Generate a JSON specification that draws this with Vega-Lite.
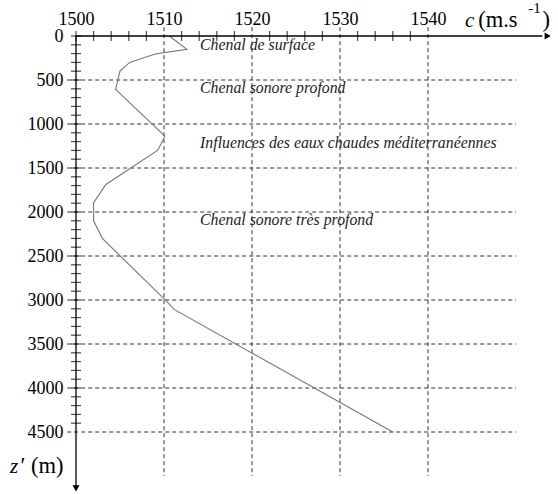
{
  "$schema": "https://vega.github.io/schema/vega-lite/v6.json",
  "autosize": {"type": "none"},
  "padding": {"left": 76, "top": 36, "right": 42, "bottom": 18},
  "width": 440,
  "height": 440,
  "background": "white",
  "config": {
    "view": {"stroke": null},
    "axis": {"domain": false, "ticks": false, "grid": false, "labelFont": "Liberation Serif", "labelFontSize": 18, "labelColor": "#000", "labelFlush": false, "labelOverlap": false, "format": "d"}
  },
  "datasets": {
    "profile": [
      {"c": 1510.6, "z": 0},
      {"c": 1512.6, "z": 151},
      {"c": 1509.0, "z": 205},
      {"c": 1506.1, "z": 300},
      {"c": 1505.0, "z": 398},
      {"c": 1504.5, "z": 607},
      {"c": 1510.1, "z": 1138},
      {"c": 1509.3, "z": 1297},
      {"c": 1503.4, "z": 1687},
      {"c": 1502.0, "z": 1894},
      {"c": 1502.0, "z": 2100},
      {"c": 1503.0, "z": 2301},
      {"c": 1510.1, "z": 2996},
      {"c": 1511.2, "z": 3110},
      {"c": 1536.0, "z": 4500}
    ],
    "vgrid": [
      {"c": 1510, "z": -100, "z2": 5000},
      {"c": 1520, "z": -100, "z2": 5000},
      {"c": 1530, "z": -100, "z2": 5000},
      {"c": 1540, "z": -100, "z2": 5000}
    ],
    "hgrid": [
      {"z": 500, "c": 1499, "c2": 1550},
      {"z": 1000, "c": 1499, "c2": 1550},
      {"z": 1500, "c": 1499, "c2": 1550},
      {"z": 2000, "c": 1499, "c2": 1550},
      {"z": 2500, "c": 1499, "c2": 1550},
      {"z": 3000, "c": 1499, "c2": 1550},
      {"z": 3500, "c": 1499, "c2": 1550},
      {"z": 4000, "c": 1499, "c2": 1550},
      {"z": 4500, "c": 1499, "c2": 1550}
    ],
    "xticks": [
      {"c": 1500}, {"c": 1502}, {"c": 1504}, {"c": 1506}, {"c": 1508},
      {"c": 1512}, {"c": 1514}, {"c": 1516}, {"c": 1518},
      {"c": 1522}, {"c": 1524}, {"c": 1526}, {"c": 1528},
      {"c": 1532}, {"c": 1534}, {"c": 1536}, {"c": 1538}
    ],
    "yticks": [
      {"z": 0}, {"z": 100}, {"z": 200}, {"z": 300}, {"z": 400}, {"z": 500},
      {"z": 600}, {"z": 700}, {"z": 800}, {"z": 900}, {"z": 1000},
      {"z": 1100}, {"z": 1200}, {"z": 1300}, {"z": 1400}, {"z": 1500},
      {"z": 1600}, {"z": 1700}, {"z": 1800}, {"z": 1900}, {"z": 2000},
      {"z": 2100}, {"z": 2200}, {"z": 2300}, {"z": 2400}, {"z": 2500},
      {"z": 2600}, {"z": 2700}, {"z": 2800}, {"z": 2900}, {"z": 3000},
      {"z": 3100}, {"z": 3200}, {"z": 3300}, {"z": 3400}, {"z": 3500},
      {"z": 3600}, {"z": 3700}, {"z": 3800}, {"z": 3900}, {"z": 4000},
      {"z": 4100}, {"z": 4200}, {"z": 4300}, {"z": 4400}
    ],
    "axislines": [
      {"c": 1500, "c2": 1553, "z": 0, "z2": 0},
      {"c": 1500, "c2": 1500, "z": 0, "z2": 5130}
    ],
    "arrows": [
      {"c": 1553.6, "z": 0, "shape": "triangle-right"},
      {"c": 1500, "z": 5140, "shape": "triangle-down"}
    ],
    "notes": [
      {"c": 1514.1, "z": 159, "label": "Chenal de surface"},
      {"c": 1514.1, "z": 651, "label": "Chenal sonore profond"},
      {"c": 1514.1, "z": 1276, "label": "Influences des eaux chaudes méditerranéennes"},
      {"c": 1514.1, "z": 2148, "label": "Chenal sonore très profond"}
    ],
    "titlesItalic": [
      {"c": 1544.2, "z": -106, "label": "c"},
      {"c": 1492.5, "z": 4966, "label": "z"}
    ],
    "titlesRoman": [
      {"c": 1545.7, "z": -106, "label": "(m.s"},
      {"c": 1553.0, "z": -106, "label": ")"},
      {"c": 1493.7, "z": 4966, "label": "′ (m)"}
    ],
    "titlesSup": [
      {"c": 1551.4, "z": -262, "label": "-1"}
    ]
  },
  "layer": [
    {
      "data": {"name": "vgrid"},
      "mark": {"type": "rule", "color": "#333", "strokeWidth": 1, "strokeDash": [4, 3]},
      "encoding": {
        "x": {"field": "c", "type": "quantitative", "scale": {"domain": [1500, 1550], "nice": false, "zero": false},
              "axis": {"orient": "top", "values": [1500, 1510, 1520, 1530, 1540], "title": null, "labelPadding": 8, "format": "d", "labelFont": "Liberation Serif"}},
        "y": {"field": "z", "type": "quantitative", "scale": {"domain": [0, 5000], "nice": false, "zero": false, "reverse": true},
              "axis": {"values": [0, 500, 1000, 1500, 2000, 2500, 3000, 3500, 4000, 4500], "title": null, "labelPadding": 13, "format": "d", "labelFont": "Liberation Serif"}},
        "y2": {"field": "z2"}
      }
    },
    {
      "data": {"name": "hgrid"},
      "mark": {"type": "rule", "color": "#333", "strokeWidth": 1, "strokeDash": [4, 3]},
      "encoding": {
        "x": {"field": "c", "type": "quantitative", "axis": {"orient": "top", "values": [1500, 1510, 1520, 1530, 1540], "title": null, "labelPadding": 8, "format": "d", "labelFont": "Liberation Serif"}},
        "x2": {"field": "c2"},
        "y": {"field": "z", "type": "quantitative", "axis": {"values": [0, 500, 1000, 1500, 2000, 2500, 3000, 3500, 4000, 4500], "title": null, "labelPadding": 13, "format": "d", "labelFont": "Liberation Serif"}}
      }
    },
    {
      "data": {"name": "profile"},
      "mark": {"type": "line", "color": "#777", "strokeWidth": 1.1},
      "encoding": {
        "x": {"field": "c", "type": "quantitative", "axis": {"orient": "top", "values": [1500, 1510, 1520, 1530, 1540], "title": null, "labelPadding": 8, "format": "d", "labelFont": "Liberation Serif"}},
        "y": {"field": "z", "type": "quantitative", "axis": {"values": [0, 500, 1000, 1500, 2000, 2500, 3000, 3500, 4000, 4500], "title": null, "labelPadding": 13, "format": "d", "labelFont": "Liberation Serif"}},
        "order": {"field": "z", "type": "quantitative"}
      }
    },
    {
      "data": {"name": "axislines"},
      "mark": {"type": "rule", "color": "#000", "strokeWidth": 1.3},
      "encoding": {
        "x": {"field": "c", "type": "quantitative", "axis": {"orient": "top", "values": [1500, 1510, 1520, 1530, 1540], "title": null, "labelPadding": 8, "format": "d", "labelFont": "Liberation Serif"}},
        "x2": {"field": "c2"},
        "y": {"field": "z", "type": "quantitative", "axis": {"values": [0, 500, 1000, 1500, 2000, 2500, 3000, 3500, 4000, 4500], "title": null, "labelPadding": 13, "format": "d", "labelFont": "Liberation Serif"}},
        "y2": {"field": "z2"}
      }
    },
    {
      "data": {"name": "xticks"},
      "mark": {"type": "tick", "orient": "vertical", "size": 10, "thickness": 1.2, "color": "#000"},
      "encoding": {
        "x": {"field": "c", "type": "quantitative", "axis": {"orient": "top", "values": [1500, 1510, 1520, 1530, 1540], "title": null, "labelPadding": 8, "format": "d", "labelFont": "Liberation Serif"}},
        "y": {"datum": 0, "type": "quantitative", "axis": {"values": [0, 500, 1000, 1500, 2000, 2500, 3000, 3500, 4000, 4500], "title": null, "labelPadding": 13, "format": "d", "labelFont": "Liberation Serif"}}
      }
    },
    {
      "data": {"name": "yticks"},
      "mark": {"type": "tick", "orient": "horizontal", "size": 10, "thickness": 1.2, "color": "#000"},
      "encoding": {
        "x": {"datum": 1500, "type": "quantitative", "axis": {"orient": "top", "values": [1500, 1510, 1520, 1530, 1540], "title": null, "labelPadding": 8, "format": "d", "labelFont": "Liberation Serif"}},
        "y": {"field": "z", "type": "quantitative", "axis": {"values": [0, 500, 1000, 1500, 2000, 2500, 3000, 3500, 4000, 4500], "title": null, "labelPadding": 13, "format": "d", "labelFont": "Liberation Serif"}}
      }
    },
    {
      "data": {"name": "arrows"},
      "mark": {"type": "point", "filled": true, "color": "#000", "opacity": 1, "size": 50},
      "encoding": {
        "x": {"field": "c", "type": "quantitative", "axis": {"orient": "top", "values": [1500, 1510, 1520, 1530, 1540], "title": null, "labelPadding": 8, "format": "d", "labelFont": "Liberation Serif"}},
        "y": {"field": "z", "type": "quantitative", "axis": {"values": [0, 500, 1000, 1500, 2000, 2500, 3000, 3500, 4000, 4500], "title": null, "labelPadding": 13, "format": "d", "labelFont": "Liberation Serif"}},
        "shape": {"field": "shape", "type": "nominal", "scale": null, "legend": null}
      }
    },
    {
      "data": {"name": "notes"},
      "mark": {"type": "text", "align": "left", "baseline": "alphabetic", "font": "Liberation Serif", "fontStyle": "italic", "fontSize": 15.8, "color": "#222"},
      "encoding": {
        "x": {"field": "c", "type": "quantitative", "axis": {"orient": "top", "values": [1500, 1510, 1520, 1530, 1540], "title": null, "labelPadding": 8, "format": "d", "labelFont": "Liberation Serif"}},
        "y": {"field": "z", "type": "quantitative", "axis": {"values": [0, 500, 1000, 1500, 2000, 2500, 3000, 3500, 4000, 4500], "title": null, "labelPadding": 13, "format": "d", "labelFont": "Liberation Serif"}},
        "text": {"field": "label"}
      }
    },
    {
      "data": {"name": "titlesItalic"},
      "mark": {"type": "text", "align": "left", "baseline": "alphabetic", "font": "Liberation Serif", "fontStyle": "italic", "fontSize": 21, "color": "#000"},
      "encoding": {
        "x": {"field": "c", "type": "quantitative", "axis": {"orient": "top", "values": [1500, 1510, 1520, 1530, 1540], "title": null, "labelPadding": 8, "format": "d", "labelFont": "Liberation Serif"}},
        "y": {"field": "z", "type": "quantitative", "axis": {"values": [0, 500, 1000, 1500, 2000, 2500, 3000, 3500, 4000, 4500], "title": null, "labelPadding": 13, "format": "d", "labelFont": "Liberation Serif"}},
        "text": {"field": "label"}
      }
    },
    {
      "data": {"name": "titlesRoman"},
      "mark": {"type": "text", "align": "left", "baseline": "alphabetic", "font": "Liberation Serif", "fontSize": 22.5, "color": "#000"},
      "encoding": {
        "x": {"field": "c", "type": "quantitative", "axis": {"orient": "top", "values": [1500, 1510, 1520, 1530, 1540], "title": null, "labelPadding": 8, "format": "d", "labelFont": "Liberation Serif"}},
        "y": {"field": "z", "type": "quantitative", "axis": {"values": [0, 500, 1000, 1500, 2000, 2500, 3000, 3500, 4000, 4500], "title": null, "labelPadding": 13, "format": "d", "labelFont": "Liberation Serif"}},
        "text": {"field": "label"}
      }
    },
    {
      "data": {"name": "titlesSup"},
      "mark": {"type": "text", "align": "left", "baseline": "alphabetic", "font": "Liberation Serif", "fontSize": 15, "color": "#000"},
      "encoding": {
        "x": {"field": "c", "type": "quantitative", "axis": {"orient": "top", "values": [1500, 1510, 1520, 1530, 1540], "title": null, "labelPadding": 8, "format": "d", "labelFont": "Liberation Serif"}},
        "y": {"field": "z", "type": "quantitative", "axis": {"values": [0, 500, 1000, 1500, 2000, 2500, 3000, 3500, 4000, 4500], "title": null, "labelPadding": 13, "format": "d", "labelFont": "Liberation Serif"}},
        "text": {"field": "label"}
      }
    }
  ]
}
